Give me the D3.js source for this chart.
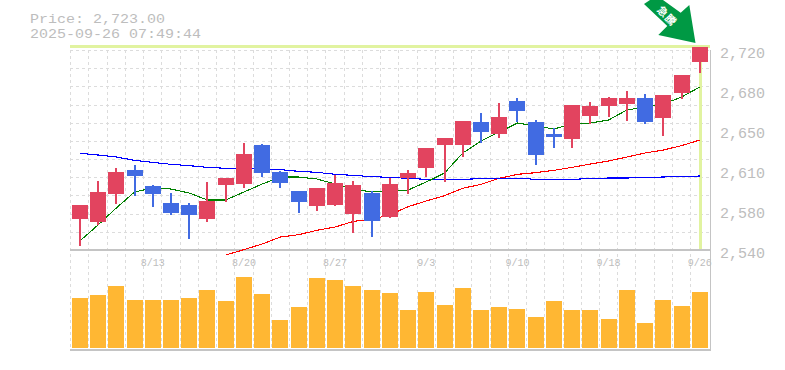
<!DOCTYPE html>
<html><head><meta charset="utf-8">
<script src="https://cdnjs.cloudflare.com/ajax/libs/d3/7.8.5/d3.min.js"></script>
<style>html,body{margin:0;padding:0;background:#fff}svg{display:block}</style>
</head><body><svg id="c" width="785" height="370"></svg>
<script>
const dates=["8/6","8/7","8/8","8/12","8/13","8/14","8/15","8/18","8/19","8/20","8/21","8/22","8/25","8/26","8/27","8/28","8/29","9/1","9/2","9/3","9/4","9/5","9/8","9/9","9/10","9/11","9/12","9/16","9/17","9/18","9/19","9/22","9/24","9/25","9/26"];
const tickDates=["8/13","8/20","8/27","9/3","9/10","9/18","9/26"];
const priceTicks=[2720,2680,2650,2610,2580,2540];
const opens=[2567.9,2565.2,2590.4,2612,2597.6,2582.3,2580.5,2567.9,2598.5,2599.4,2634.5,2610.2,2593.1,2579.6,2580.5,2572.4,2591.3,2569.7,2604.8,2613.8,2634.5,2634.5,2655.2,2644.4,2674.1,2655.2,2644.4,2639.9,2660.6,2669.6,2671.4,2676.8,2658.8,2681.3,2709.2];
const closes=[2580.5,2592.2,2610.2,2606.6,2590.4,2573.3,2571.5,2584.1,2604.8,2626.4,2609.3,2600.3,2583.2,2595.8,2600.3,2598.5,2566.1,2599.4,2609.3,2631.8,2640.8,2656.1,2646.2,2659.7,2665.1,2625.5,2641.7,2670.5,2669.6,2676.8,2676.8,2655.2,2679.5,2697.5,2723];
const highs=[2580.5,2602.1,2613.8,2616.5,2598.5,2591.3,2582.3,2601.2,2604.8,2636.3,2635.4,2611.1,2593.1,2595.8,2607.5,2602.1,2593.1,2604.8,2612,2631.8,2640.8,2656.1,2663.3,2672.3,2676.8,2657,2649.8,2670.5,2673.2,2677.7,2683.1,2680.4,2679.5,2697.5,2723];
const lows=[2543.9,2562.5,2581.4,2588.6,2578.7,2571.5,2549.9,2565.2,2583.2,2595.8,2605.7,2595.8,2573.3,2575.1,2579.6,2555.3,2551.7,2568.8,2590.4,2605.7,2601.2,2623.7,2636.3,2640.8,2655.2,2616.5,2631.8,2631.8,2653.4,2659.7,2656.1,2653.4,2642.6,2675.9,2699.3];
const volumes=[50,53,62,48,48,48,50,58,47,71,54,28,41,70,68,62,58,55,38,56,43,60,38,41,39,31,47,38,38,29,58,25,48,42,56];
const maShort=[2548.1,2562.5,2577.8,2592.2,2595.8,2594.9,2591.3,2585,2585,2592.2,2599.4,2605.7,2605.7,2603.9,2599.4,2594.9,2592.2,2593.1,2594,2601.2,2609.3,2627.3,2638.1,2646.2,2654.3,2651.6,2648.9,2653.4,2654.3,2657,2666,2668.7,2671.4,2677.7,2686.7];
const maMid=[2627,2625.5,2623.7,2620.7,2618.9,2617.1,2615.9,2614.4,2613.5,2613.2,2613.2,2612.3,2610.8,2609.9,2608.1,2607.2,2606,2605.4,2604.5,2603.6,2603.6,2603.6,2604.2,2604.6,2604.6,2603.6,2603.6,2603.6,2604.3,2604.8,2604.8,2605.2,2605.7,2606.1,2606.6];
const maLong=[null,null,null,null,null,null,null,null,2535.5,2540.3,2545.4,2551.7,2553.8,2557.7,2560.7,2565.7,2567.7,2571.5,2579,2584.1,2588.9,2595.5,2599.1,2604.5,2608.1,2609.6,2611.7,2614.4,2617.4,2620.1,2623.7,2627.3,2630,2633.9,2639];
const arrowLabel="急騰";

const svg=d3.select("#c");
const L=70.7,R=710,step=18.235,slotRight=L+step*35;
const x=d3.scaleBand().domain(dates).range([L,slotRight]).paddingInner(0).paddingOuter(0);
const cx=d=>x(d)+x.bandwidth()/2;
const y=d3.scaleLinear().domain([2540,2720]).range([250,50]);
const v=d3.scaleLinear().domain([0,100]).range([348,248]);
const up="#e2445f",down="#416be2";

// grid
const gridY=d3.range(0,11).map(i=>50+i*200/11);
const g=svg.append("g").attr("stroke","#dcdcdc").attr("stroke-dasharray","3 3").attr("fill","none").attr("shape-rendering","crispEdges");
g.selectAll(".h").data(gridY).join("line").attr("x1",L-1).attr("x2",R).attr("y1",d=>Math.round(d)+.5).attr("y2",d=>Math.round(d)+.5);
const vx=dates.map(d=>x(d));
g.selectAll(".v").data(vx).join("line").attr("x1",d=>Math.floor(d)+.5).attr("x2",d=>Math.floor(d)+.5).attr("y1",50).attr("y2",350);

// highlight
const last=dates[dates.length-1];
svg.append("rect").attr("x",70).attr("y",45).attr("width",640).attr("height",3).attr("fill","#e1f3a0");
svg.append("rect").attr("x",Math.round(cx(last))-1).attr("y",47).attr("width",3).attr("height",204).attr("fill","#e1f3a0");

// volume
svg.append("g").attr("shape-rendering","crispEdges").selectAll("rect").data(dates).join("rect")
 .attr("x",d=>Math.round(cx(d)-8)).attr("width",16)
 .attr("y",(d,i)=>v(volumes[i])).attr("height",(d,i)=>v(0)-v(volumes[i])).attr("fill","#ffb733");

// frame
const frame=svg.append("g").attr("stroke","#c4c4c4").attr("fill","none").attr("shape-rendering","crispEdges");
frame.append("line").attr("x1",70).attr("x2",711).attr("y1",250).attr("y2",250).attr("stroke-width",2);
frame.append("line").attr("x1",70).attr("x2",711).attr("y1",350).attr("y2",350).attr("stroke-width",2);
frame.append("line").attr("x1",710.5).attr("x2",710.5).attr("y1",50).attr("y2",350).attr("stroke-width",1);

// moving averages
const mkLine=d3.line().defined(d=>d!=null).x((d,i)=>cx(dates[i])).y(d=>y(d));
function ma(arr,c){svg.append("path").attr("d",mkLine(arr)).attr("fill","none").attr("stroke",c).attr("stroke-width",1.1).attr("shape-rendering","crispEdges");}
ma(maLong,"#ff0000");
ma(maMid,"#0000ff");
ma(maShort,"#008000");

// candles
const c=svg.append("g").attr("shape-rendering","crispEdges");
dates.forEach((d,i)=>{
  const col=closes[i]>=opens[i]?up:down, m=Math.round(cx(d));
  c.append("rect").attr("x",m-1).attr("width",2).attr("y",y(highs[i])).attr("height",y(lows[i])-y(highs[i])).attr("fill",col);
  const t=y(Math.max(opens[i],closes[i])),b=y(Math.min(opens[i],closes[i]));
  c.append("rect").attr("x",m-8).attr("width",16).attr("y",t).attr("height",b-t).attr("fill",col);
});

// text
const mono="'Liberation Mono','DejaVu Sans Mono',monospace";
const grey="#bdbdbd";
function head(t,yy){svg.append("text").attr("x",30).attr("y",yy).attr("font-family",mono).attr("font-size",13).attr("fill",grey)
 .attr("textLength",t.length*9).attr("lengthAdjust","spacingAndGlyphs").text(t);}
head("Price: 2,723.00",23);
head("2025-09-26 07:49:44",38);
svg.append("g").selectAll("text").data(priceTicks).join("text")
 .attr("x",720).attr("y",(d,i)=>58+i*40).attr("font-family",mono).attr("font-size",14).attr("fill",grey)
 .attr("textLength",45).attr("lengthAdjust","spacingAndGlyphs").text(d3.format(","));
svg.append("g").selectAll("text").data(tickDates).join("text")
 .attr("x",d=>cx(d)).attr("y",266).attr("text-anchor","middle").attr("font-family",mono).attr("font-size",10).attr("fill",grey).text(d=>d);

// arrow
const arrowPts=[[644,4],[650,0],[663,0],[680.7,12.7],[689.3,5],[695.5,43],[658.3,35],[667.3,26]];
svg.append("polygon").attr("points",arrowPts.join(" ")).attr("fill","#009944");
svg.append("text").attr("transform","translate(667.5,15.5) rotate(45)").attr("text-anchor","middle").attr("dominant-baseline","central")
 .attr("font-family","'Noto Sans CJK JP'").attr("font-weight",700).attr("font-size",10.5).attr("fill","#fff").attr("letter-spacing",1).text(arrowLabel);
</script></body></html>
